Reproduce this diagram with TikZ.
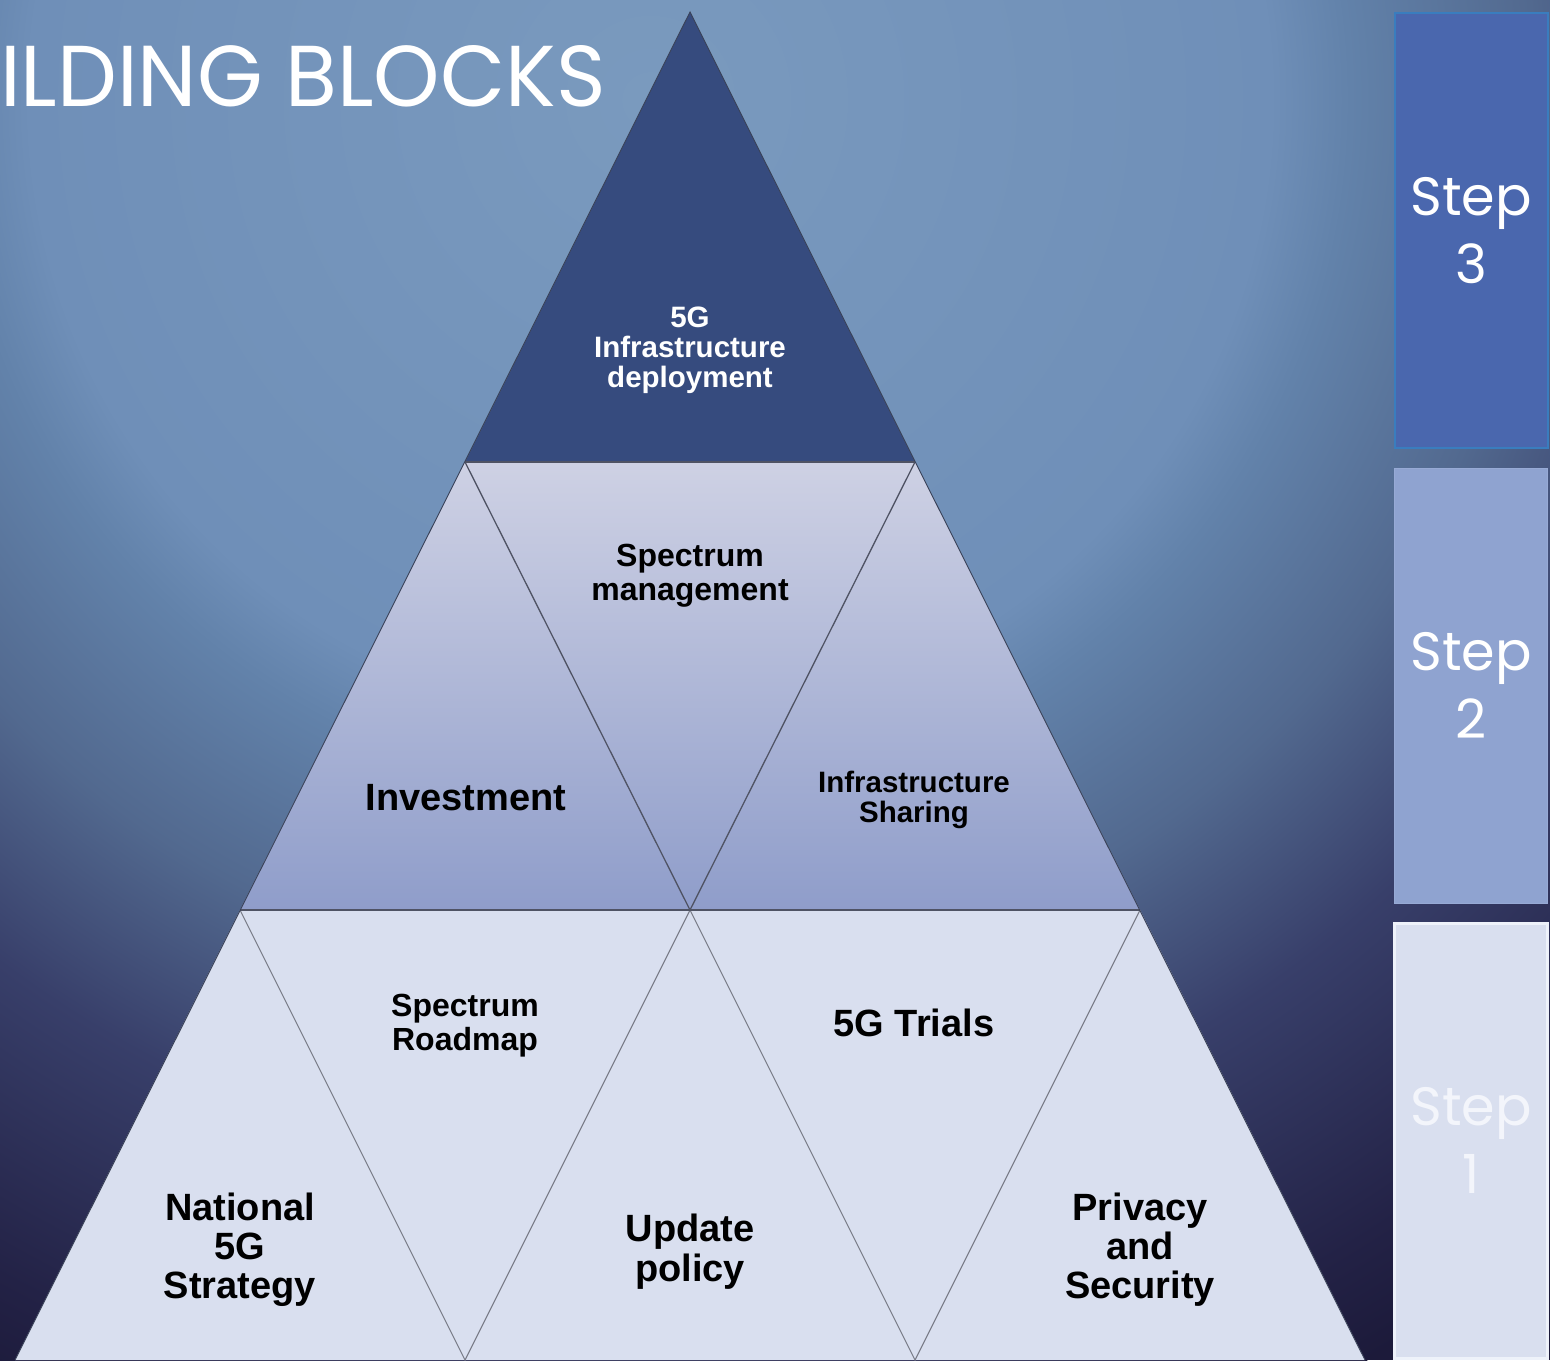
\documentclass[tikz,border=0pt]{standalone}
\usepackage{fontspec}
\setmainfont{Liberation Sans}
\newfontfamily\geofont{Poppins}
\definecolor{bgA}{HTML}{7A9ABE}
\definecolor{bgB}{HTML}{6F8FB8}
\definecolor{bgC}{HTML}{6282AA}
\definecolor{bgD}{HTML}{52698F}
\definecolor{bgE}{HTML}{383F6A}
\definecolor{bgF}{HTML}{232246}
\definecolor{bgG}{HTML}{1C1A3A}
\definecolor{topT}{HTML}{364B7E}
\definecolor{midTop}{HTML}{CED1E4}
\definecolor{midBot}{HTML}{8F9DCA}
\definecolor{lowT}{HTML}{D9DFEF}
\definecolor{edgeA}{HTML}{4F5364}
\definecolor{edgeB}{HTML}{7A7C88}
\definecolor{outerE}{HTML}{3A4258}
\definecolor{sThree}{HTML}{4A67AE}
\definecolor{sThreeB}{HTML}{3A7DBE}
\definecolor{sTwo}{HTML}{8FA3D0}
\definecolor{sTwoB}{HTML}{97AAD5}
\definecolor{sOne}{HTML}{D9DFEF}
\definecolor{sOneB}{HTML}{EEF2FA}
\definecolor{sOneT}{HTML}{F3F5FB}
\pgfdeclareradialshading{bgshade}{\pgfpointorigin}{color(0bp)=(bgA); color(10.7bp)=(bgB); color(12.07bp)=(bgC); color(15.26bp)=(bgD); color(18.62bp)=(bgE); color(23.14bp)=(bgF); color(25bp)=(bgG); color(50bp)=(bgG)}
\newcommand\setfs[2]{\fontsize{#1}{#2}\selectfont}
\tikzset{
  lbl/.style={font=\bfseries, align=center, inner sep=0pt, text=black},
  stepbox/.style={minimum width=153pt, minimum height=435pt, inner sep=0pt, align=center,
    font=\geofont\setfs{54}{68}, text=white},
  rowtwo/.style={top color=midTop, bottom color=midBot},
  innerA/.style={draw=edgeA, line width=1.3pt},
  innerB/.style={draw=edgeB, line width=1.1pt},
}
\begin{document}
\begin{tikzpicture}[x=1pt,y=-1pt]
\useasboundingbox (0,0) rectangle (1550,1360);
\begin{scope}
\clip (0,0) rectangle (1550,1360);
\fill[bgG] (0,0) rectangle (1550,1360);
\shade[shading=bgshade] (650,100) circle (1450pt);

% pyramid corner points
\coordinate (A) at (690,12);
\coordinate (B1) at (465,462);
\coordinate (B2) at (915,462);
\coordinate (C1) at (240,910);
\coordinate (C2) at (690,910);
\coordinate (C3) at (1140,910);
\coordinate (D1) at (15,1360);
\coordinate (D2) at (465,1360);
\coordinate (D3) at (915,1360);
\coordinate (D4) at (1365,1360);

% fills
\fill[topT] (A) -- (B1) -- (B2) -- cycle;
\shade[rowtwo] (B1) -- (C1) -- (C2) -- cycle;
\shade[rowtwo] (B1) -- (B2) -- (C2) -- cycle;
\shade[rowtwo] (B2) -- (C2) -- (C3) -- cycle;
\fill[lowT] (C1) -- (D1) -- (D4) -- (C3) -- cycle;

% inner edges
\draw[innerA] (B1) -- (C2) -- (B2);
\draw[innerB] (C1) -- (D2) -- (C2) -- (D3) -- (C3);
\draw[draw=edgeA, line width=1.4pt] (B1) -- (B2);
\draw[draw=edgeA, line width=2pt] (C1) -- (C3);
\draw[draw=outerE, line width=0.9pt] (D1) -- (A) -- (D4);

% title
\node[anchor=north west, inner sep=0pt, text=white] (title) at (0,45)
  {\resizebox{605pt}{61pt}{\geofont ILDING BLOCKS}};

% labels
\node[lbl, text=white, font=\bfseries\setfs{29.5}{30}] (deploy) at (690,350)
  {5G\\Infrastructure\\deployment};
\node[lbl, font=\bfseries\setfs{32}{34}] (specmgmt) at (690,576)
  {Spectrum\\management};
\node[lbl, font=\bfseries\setfs{38}{40}] (invest) at (466,798) {Investment};
\node[lbl, font=\bfseries\setfs{29.5}{30}] (infrashare) at (914,800)
  {Infrastructure\\Sharing};
\node[lbl, font=\bfseries\setfs{32}{34}] (specroad) at (465,1026)
  {Spectrum\\Roadmap};
\node[lbl, font=\bfseries\setfs{38}{40}] (trials) at (914,1023) {5G Trials};
\node[lbl, font=\bfseries\setfs{38}{39}] (national) at (240,1250)
  {National\\5G\\Strategy};
\node[lbl, font=\bfseries\setfs{38}{40}] (update) at (690,1252)
  {Update\\policy};
\node[lbl, font=\bfseries\setfs{38}{39}] (privacy) at (1140,1250)
  {Privacy\\and\\Security};

% step boxes
\node[stepbox, fill=sThree, draw=sThreeB, line width=2pt] (step3) at (1471,230.5) {Step\\3};
\node[stepbox, fill=sTwo, draw=sTwoB, line width=1pt] (step2) at (1471,685.5) {Step\\2};
\node[stepbox, fill=sOne, draw=sOneB, line width=3pt, text=sOneT] (step1) at (1471,1140.5) {Step\\1};
\end{scope}
\end{tikzpicture}
\end{document}
